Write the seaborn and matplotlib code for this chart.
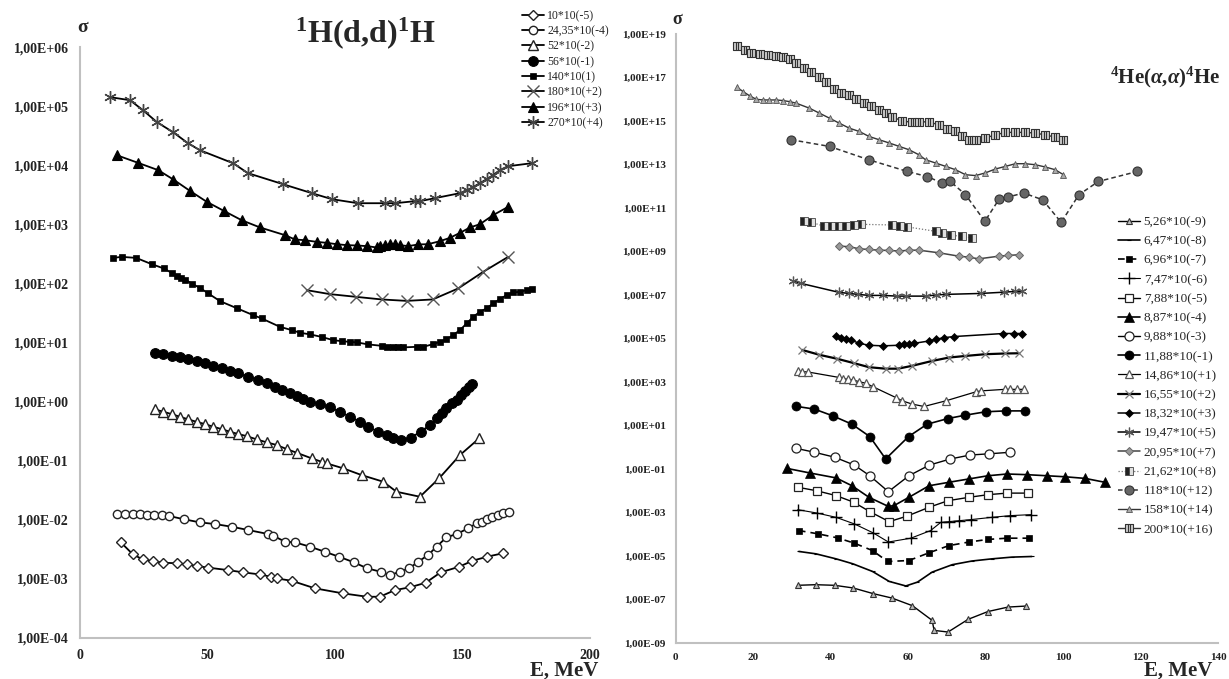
import numpy as np
import pandas as pd
import matplotlib
matplotlib.use("Agg")
import matplotlib.pyplot as plt
from matplotlib.path import Path
import seaborn as sns

# ---------------- data: 1H(d,d)1H ----------------
d10_E = [16.0, 20.7, 24.6, 28.5, 32.7, 37.9, 41.8, 46.0, 50.3, 58.1, 64.0, 70.6, 74.8, 77.1, 83.0,
         92.1, 103.0, 112.6, 117.6, 123.5, 129.4, 135.6, 141.4, 148.7, 153.9, 159.7, 165.7]
d10_S = [4.16e-3, 2.61e-3, 2.14e-3, 2.01e-3, 1.88e-3, 1.84e-3, 1.77e-3, 1.65e-3, 1.55e-3, 1.41e-3,
         1.29e-3, 1.19e-3, 1.09e-3, 1.02e-3, 9.3e-4, 6.93e-4, 5.70e-4, 4.99e-4, 4.99e-4, 6.48e-4,
         7.21e-4, 8.63e-4, 1.29e-3, 1.61e-3, 2.03e-3, 2.38e-3, 2.71e-3]

d24_E = [14.6, 17.6, 20.7, 23.5, 26.1, 29.1, 32.0, 35.0, 40.9, 47.0, 52.9, 59.5, 66.0, 73.8, 75.8,
         80.4, 84.3, 90.2, 96.0, 101.6, 107.4, 112.6, 118.0, 121.5, 125.4, 129.1, 132.6, 136.5,
         139.8, 143.7, 147.7, 152.2, 155.5, 157.5, 159.4, 161.4, 164.0, 165.9, 168.3]
d24_S = [1.25e-2, 1.24e-2, 1.24e-2, 1.24e-2, 1.21e-2, 1.21e-2, 1.20e-2, 1.16e-2, 1.02e-2, 9.06e-3,
         8.49e-3, 7.64e-3, 6.72e-3, 5.75e-3, 5.38e-3, 4.26e-3, 4.16e-3, 3.51e-3, 2.88e-3, 2.37e-3,
         1.91e-3, 1.51e-3, 1.32e-3, 1.16e-3, 1.32e-3, 1.51e-3, 1.95e-3, 2.54e-3, 3.51e-3, 5.06e-3,
         5.75e-3, 7.18e-3, 8.73e-3, 9.29e-3, 1.02e-2, 1.13e-2, 1.21e-2, 1.29e-2, 1.34e-2]

d52_E = [29.4, 32.7, 35.9, 39.2, 42.5, 45.7, 49.0, 52.3, 55.5, 58.8, 62.1, 65.3, 69.3, 73.2, 77.1,
         81.0, 84.9, 90.8, 94.7, 96.7, 103.2, 110.4, 118.9, 124.1, 133.3, 140.8, 149.0, 156.5]
d52_S = [0.741, 0.675, 0.617, 0.556, 0.501, 0.456, 0.418, 0.376, 0.344, 0.310, 0.283, 0.262, 0.230,
         0.205, 0.185, 0.158, 0.137, 0.110, 0.0962, 0.0904, 0.0745, 0.0573, 0.0442, 0.0299, 0.0246,
         0.0504, 0.125, 0.239]

d56_E = [29.4, 32.7, 35.9, 39.2, 42.5, 45.7, 49.0, 52.3, 55.5, 58.8, 62.1, 66.0, 69.9, 73.2, 76.4,
         79.1, 82.3, 84.9, 87.5, 90.2, 94.1, 98.0, 101.9, 105.8, 109.8, 113.0, 116.9, 120.2, 122.8,
         125.7, 129.6, 133.6, 137.2, 139.8, 141.8, 143.7, 145.7, 147.7, 149.4, 151.0, 152.5, 153.7]
d56_S = [6.71, 6.38, 5.97, 5.62, 5.20, 4.86, 4.45, 4.05, 3.66, 3.33, 3.01, 2.64, 2.32, 2.04, 1.75,
         1.57, 1.42, 1.24, 1.11, 0.995, 0.910, 0.803, 0.675, 0.556, 0.457, 0.376, 0.310, 0.272,
         0.239, 0.224, 0.245, 0.310, 0.402, 0.521, 0.634, 0.771, 0.936, 1.06, 1.29, 1.51, 1.77, 1.99]

d140_E = [13.1, 16.3, 22.0, 28.1, 32.9, 35.9, 37.9, 39.5, 41.2, 43.8, 47.0, 50.3, 54.9, 61.7, 67.9,
          71.2, 78.4, 83.0, 86.2, 90.2, 94.7, 99.3, 102.6, 105.8, 108.5, 113.0, 118.3, 120.2, 122.8,
          124.8, 126.7, 132.0, 134.6, 138.5, 141.1, 143.7, 146.3, 149.0, 151.6, 154.2, 156.8, 159.4,
          162.0, 164.6, 167.3, 169.9, 172.5, 175.1, 177.1]
d140_S = [272, 283, 272, 213, 180, 152, 135, 125, 117, 100, 84.6, 68.0, 50.4, 37.9, 29.2, 25.7,
          18.5, 16.3, 14.7, 13.8, 12.5, 11.0, 10.6, 10.3, 10.1, 9.33, 8.83, 8.49, 8.49, 8.49, 8.30,
          8.49, 8.49, 9.44, 10.3, 11.3, 13.4, 16.3, 21.1, 27.4, 33.2, 37.9, 46.0, 54.4, 63.7, 70.8,
          72.4, 77.3, 80.4]

d180_E = [88.9, 98.0, 108.2, 118.3, 128.1, 138.3, 148.3, 158.1, 167.9]
d180_S = [77.3, 66.2, 59.6, 53.8, 50.9, 53.8, 82.6, 158, 283]

d196_E = [14.4, 22.9, 30.7, 36.6, 43.1, 49.7, 56.4, 63.4, 70.6, 80.4, 84.3, 88.2, 92.8, 96.7, 100.6,
          104.5, 108.5, 112.6, 116.3, 117.6, 119.6, 121.5, 123.5, 125.4, 128.7, 132.6, 136.5, 141.1,
          145.0, 149.0, 152.9, 156.8, 162.0, 167.9]
d196_S = [1.49e4, 1.10e4, 8.30e3, 5.77e3, 3.71e3, 2.42e3, 1.70e3, 1.18e3, 890, 659, 557, 542, 508,
          489, 464, 447, 441, 430, 408, 430, 447, 459, 459, 447, 430, 459, 464, 521, 593, 721, 890,
          1010, 1440, 1990]

d270_E = [11.8, 19.6, 24.7, 30.2, 36.5, 42.3, 47.0, 60.0, 65.9, 79.6, 90.9, 98.8, 109.0, 119.6,
          123.5, 131.3, 133.3, 139.2, 149.0, 151.7, 154.1, 156.8, 159.5, 161.9, 164.6, 167.8, 177.2]
d270_S = [1.43e5, 1.27e5, 8.6e4, 5.38e4, 3.65e4, 2.38e4, 1.81e4, 1.09e4, 7.38e3, 4.81e3, 3.39e3,
          2.68e3, 2.29e3, 2.29e3, 2.29e3, 2.48e3, 2.48e3, 2.79e3, 3.39e3, 3.80e3, 4.28e3, 5.0e3,
          5.85e3, 6.82e3, 8.3e3, 9.68e3, 1.09e4]

# ---------------- data: 4He(a,a)4He ----------------
a526_E = [31.5, 36.1, 41.0, 45.8, 51.0, 55.8, 61.1, 66.2, 66.7, 70.3, 75.5, 80.6, 85.8, 90.4]
a526_S = [4.5e-7, 4.8e-7, 4.5e-7, 3.4e-7, 1.86e-7, 1.17e-7, 5.2e-8, 1.1e-8, 3.8e-9, 3.2e-9,
          1.23e-8, 2.8e-8, 4.5e-8, 5.0e-8]

a647_E = [31.8, 36.2, 41.4, 45.7, 50.8, 55.1, 59.4, 62.4, 66.2, 71.4, 76.5, 81.6, 86.8, 91.9]
a647_S = [1.62e-5, 1.26e-5, 7.4e-6, 4.4e-6, 1.95e-6, 6.8e-7, 4.2e-7, 6.3e-7, 1.82e-6, 4.0e-6,
          5.9e-6, 7.4e-6, 8.9e-6, 9.5e-6]

a696_E = [31.8, 36.7, 41.8, 46.1, 50.8, 54.7, 60.2, 65.4, 70.5, 75.7, 80.6, 85.5, 91.1]
a696_S = [1.48e-4, 1.05e-4, 6.8e-5, 3.9e-5, 1.78e-5, 5.6e-6, 6.2e-6, 1.41e-5, 3.0e-5, 4.4e-5,
          5.8e-5, 6.6e-5, 6.6e-5]

a747_E = [31.5, 36.4, 41.4, 46.1, 51.0, 54.9, 60.7, 65.8, 68.4, 70.5, 73.1, 76.1, 81.6, 86.4, 91.8]
a747_S = [1.35e-3, 9.5e-4, 6.0e-4, 3.0e-4, 1.15e-4, 4.4e-5, 6.6e-5, 1.48e-4, 3.5e-4, 3.8e-4,
          4.2e-4, 4.7e-4, 6.0e-4, 7.2e-4, 8.0e-4]

a788_E = [31.5, 36.4, 41.4, 45.9, 50.1, 55.1, 59.8, 65.4, 70.3, 75.7, 80.6, 85.5, 90.9]
a788_S = [1.45e-2, 1.0e-2, 6.0e-3, 3.0e-3, 1.1e-3, 3.8e-4, 6.9e-4, 1.74e-3, 3.5e-3, 5.0e-3,
          6.6e-3, 7.8e-3, 7.8e-3]

a887_E = [28.7, 34.6, 41.4, 45.5, 49.9, 54.9, 56.4, 60.2, 65.4, 70.5, 75.7, 80.6, 85.5, 90.6, 95.8,
          100.5, 105.7, 110.8]
a887_S = [0.107, 0.066, 0.039, 0.017, 5.0e-3, 1.9e-3, 2.1e-3, 5.0e-3, 0.017, 0.0245, 0.035, 0.049,
          0.059, 0.055, 0.049, 0.044, 0.037, 0.0245]

a988_E = [31.1, 35.8, 41.0, 46.1, 50.1, 54.9, 60.2, 65.5, 70.9, 76.0, 80.9, 86.4]
a988_S = [0.89, 0.59, 0.35, 0.152, 0.049, 9.1e-3, 0.049, 0.152, 0.29, 0.44, 0.50, 0.59]

a1188_E = [31.1, 35.8, 40.5, 45.5, 50.1, 54.2, 60.1, 64.9, 70.3, 74.8, 80.1, 85.2, 90.1]
a1188_S = [76, 57, 28, 11.5, 3.1, 0.29, 3.1, 11.5, 21, 30, 43, 47, 47]

a1486_E = [31.5, 32.6, 34.1, 42.2, 43.1, 44.4, 45.7, 47.4, 49.1, 50.8, 56.8, 58.5, 61.1, 64.1, 69.7,
           77.4, 78.7, 84.9, 86.4, 88.1, 89.8]
a1486_S = [3.2e3, 3.0e3, 2.9e3, 1.62e3, 1.45e3, 1.35e3, 1.26e3, 1.02e3, 880, 620, 194, 136, 96, 75,
           136, 350, 390, 460, 460, 460, 460]

a1655_E = [32.6, 37.1, 41.7, 46.1, 49.9, 54.2, 57.4, 61.1, 66.2, 70.5, 74.8, 79.9, 85.1, 88.5]
a1655_S = [3.0e4, 1.78e4, 1.17e4, 7.3e3, 4.8e3, 4.1e3, 4.1e3, 5.6e3, 9.3e3, 1.33e4, 1.58e4, 1.9e4,
           2.05e4, 2.1e4]

a1832_E = [41.4, 42.7, 44.0, 45.2, 47.4, 49.9, 53.4, 57.7, 58.9, 60.2, 61.5, 65.4, 67.1, 69.2, 71.8,
           84.6, 87.2, 89.4]
a1832_S = [1.29e5, 1.09e5, 9.8e4, 8.5e4, 6.0e4, 4.9e4, 4.6e4, 4.9e4, 5.4e4, 5.8e4, 6.0e4, 7.7e4,
           9.1e4, 1.09e5, 1.23e5, 1.70e5, 1.70e5, 1.70e5]

a1947_E = [30.2, 32.4, 42.2, 44.8, 47.0, 49.9, 53.4, 57.2, 59.4, 64.5, 67.1, 69.7, 78.7, 84.7, 87.7,
           89.4]
a1947_S = [4.4e7, 3.4e7, 1.32e7, 1.18e7, 1.07e7, 9.6e6, 9.6e6, 8.9e6, 8.9e6, 8.9e6, 1.0e7, 1.07e7,
           1.18e7, 1.35e7, 1.47e7, 1.47e7]

a2095_E = [42.2, 44.8, 47.4, 49.9, 52.5, 55.1, 57.7, 60.2, 62.8, 68.0, 73.1, 75.7, 78.2, 83.4, 85.9,
           88.5]
a2095_S = [1.78e9, 1.66e9, 1.33e9, 1.24e9, 1.15e9, 1.12e9, 1.05e9, 1.15e9, 1.15e9, 8.7e8, 6.1e8,
           5.5e8, 4.6e8, 6.1e8, 6.6e8, 7.1e8]

a2162_E = [33.2, 35.0, 38.4, 40.1, 41.8, 44.0, 46.1, 47.9, 55.9, 57.9, 59.8, 67.1, 68.8, 71.0, 73.9,
           76.5]
a2162_S = [2.6e10, 2.2e10, 1.44e10, 1.55e10, 1.55e10, 1.55e10, 1.66e10, 1.78e10, 1.66e10, 1.5e10,
           1.35e10, 8.5e9, 7.2e9, 5.6e9, 5.0e9, 4.2e9]

a118_E = [29.8, 39.7, 49.8, 59.8, 64.9, 68.8, 70.9, 74.8, 79.8, 83.5, 85.8, 89.8, 94.7, 99.5, 104.1,
          109.1, 119.2]
a118_S = [1.38e14, 6.8e13, 1.66e13, 4.8e12, 2.8e12, 1.41e12, 1.66e12, 4.1e11, 2.45e10, 2.6e11,
          3.2e11, 4.9e11, 2.4e11, 2.2e10, 4.1e11, 1.66e12, 4.8e12]

a158_E = [15.8, 17.4, 19.1, 20.8, 22.5, 24.2, 26.0, 27.7, 29.4, 31.1, 34.5, 37.1, 39.7, 42.2, 44.8,
          47.4, 49.9, 52.5, 55.1, 57.7, 60.2, 62.8, 64.5, 67.1, 69.7, 72.2, 74.8, 77.4, 79.9, 82.5,
          85.1, 87.7, 90.2, 92.8, 95.4, 97.9, 100.1]
a158_S = [3.6e16, 2.25e16, 1.43e16, 1.0e16, 9.3e15, 9.3e15, 9.3e15, 8.7e15, 7.8e15, 6.6e15, 3.9e15,
          2.3e15, 1.35e15, 8.0e14, 4.7e14, 3.3e14, 1.95e14, 1.38e14, 9.8e13, 6.8e13, 4.8e13, 2.8e13,
          1.66e13, 1.17e13, 8.2e12, 5.8e12, 3.4e12, 3.1e12, 4.1e12, 6.2e12, 8.2e12, 1.09e13,
          1.09e13, 9.8e12, 7.7e12, 5.8e12, 3.4e12]

a200_E = [15.8, 17.8, 19.5, 21.7, 23.8, 26.0, 27.7, 29.4, 31.1, 33.2, 35.0, 37.1, 38.8, 40.9, 42.7,
          44.8, 46.5, 48.7, 50.4, 52.5, 54.2, 55.9, 58.5, 61.1, 62.8, 65.4, 68.0, 70.1, 72.2, 73.9,
          75.7, 77.4, 79.9, 82.5, 85.1, 87.7, 90.2, 92.8, 95.4, 97.9, 100.1]
a200_S = [2.8e18, 1.85e18, 1.30e18, 1.17e18, 1.09e18, 9.8e17, 9.1e17, 6.9e17, 4.8e17, 2.7e17,
          1.87e17, 1.10e17, 6.5e16, 2.9e16, 2.0e16, 1.59e16, 1.0e16, 6.6e15, 5.0e15, 3.26e15,
          2.29e15, 1.51e15, 1.02e15, 8.6e14, 9.5e14, 8.9e14, 6.7e14, 4.3e14, 3.3e14, 1.95e14,
          1.38e14, 1.38e14, 1.66e14, 2.3e14, 3.0e14, 3.0e14, 3.0e14, 2.8e14, 2.3e14, 1.83e14,
          1.38e14]

left_ticks_x = [0, 50, 100, 150, 200]
left_ticks_y = [1e-4, 1e-3, 1e-2, 1e-1, 1e0, 1e1, 1e2, 1e3, 1e4, 1e5, 1e6]
right_ticks_x = [0, 20, 40, 60, 80, 100, 120, 140]
right_ticks_y = [1e-9, 1e-7, 1e-5, 1e-3, 1e-1, 1e1, 1e3, 1e5, 1e7, 1e9, 1e11, 1e13, 1e15, 1e17, 1e19]

# ---------------- style ----------------
sns.set_style("white")
plt.rcParams["font.family"] = ["Liberation Serif", "DejaVu Serif"]
plt.rcParams["mathtext.fontset"] = "custom"
plt.rcParams["mathtext.rm"] = "Liberation Serif:bold"
plt.rcParams["mathtext.it"] = "Liberation Serif:italic:bold"
plt.rcParams["mathtext.bf"] = "Liberation Serif:bold"

# square marker with two vertical bars inside
_v = [(-1, -1), (1, -1), (1, 1), (-1, 1), (-1, -1),
      (-0.33, -1), (-0.33, 1), (0.33, -1), (0.33, 1)]
_c = [Path.MOVETO, Path.LINETO, Path.LINETO, Path.LINETO, Path.CLOSEPOLY,
      Path.MOVETO, Path.LINETO, Path.MOVETO, Path.LINETO]
BARSQ = Path(_v, _c)
ASTER = (6, 2, 0)

fig = plt.figure(figsize=(12.29, 6.79), dpi=100)
axL = fig.add_axes([0.0651, 0.0604, 0.415, 0.870])
axR = fig.add_axes([0.5498, 0.0530, 0.4413, 0.8969])


def draw(ax, E, S, label, lw=1.3, color="black", ls="-", **mk):
    df = pd.DataFrame({"E": E, "sigma": S})
    sns.lineplot(data=df, x="E", y="sigma", ax=ax, estimator=None, sort=False,
                 errorbar=None, color=color, lw=lw, linestyle=ls, label=label,
                 legend=False, **mk)


# left panel series
draw(axL, d10_E, d10_S, "10*10(-5)", marker="D", ms=5.5, mfc="white", mec="#222", mew=1.0)
draw(axL, d24_E, d24_S, "24,35*10(-4)", marker="o", ms=6, mfc="white", mec="#222", mew=1.0)
draw(axL, d52_E, d52_S, "52*10(-2)", marker="^", ms=7, mfc="white", mec="#222", mew=1.0)
draw(axL, d56_E, d56_S, "56*10(-1)", marker="o", ms=7, mfc="black", mec="black", mew=0.8)
draw(axL, d140_E, d140_S, "140*10(1)", marker="s", ms=4, mfc="black", mec="black", mew=0.5)
draw(axL, d180_E, d180_S, "180*10(+2)", marker="x", ms=8, mfc="none", mec="#555", mew=1.0)
draw(axL, d196_E, d196_S, "196*10(+3)", marker="^", ms=7, mfc="black", mec="black", mew=0.8)
draw(axL, d270_E, d270_S, "270*10(+4)", marker=ASTER, ms=9, mfc="none", mec="#444", mew=1.0)

# right panel series
draw(axR, a526_E, a526_S, "5,26*10(-9)", lw=1.0, marker="^", ms=5, mfc="#bbbbbb", mec="#333", mew=0.8)
draw(axR, a647_E, a647_S, "6,47*10(-8)", lw=1.2, marker="_", ms=3, mfc="black", mec="black", mew=0.8)
draw(axR, a696_E, a696_S, "6,96*10(-7)", lw=1.2, ls=(0, (4, 3)), marker="s", ms=5, mfc="black", mec="black", mew=0.5)
draw(axR, a747_E, a747_S, "7,47*10(-6)", lw=0.8, marker="+", ms=8, mfc="none", mec="black", mew=1.0)
draw(axR, a788_E, a788_S, "7,88*10(-5)", lw=1.0, marker="s", ms=6, mfc="white", mec="#222", mew=0.9)
draw(axR, a887_E, a887_S, "8,87*10(-4)", lw=1.2, marker="^", ms=6.5, mfc="black", mec="black", mew=0.5)
draw(axR, a988_E, a988_S, "9,88*10(-3)", lw=1.0, marker="o", ms=6.5, mfc="white", mec="#222", mew=0.9)
draw(axR, a1188_E, a1188_S, "11,88*10(-1)", lw=1.2, marker="o", ms=6.5, mfc="black", mec="black", mew=0.5)
draw(axR, a1486_E, a1486_S, "14,86*10(+1)", lw=0.9, marker="^", ms=6, mfc="white", mec="#555", mew=0.9)
draw(axR, a1655_E, a1655_S, "16,55*10(+2)", lw=1.6, marker="x", ms=6, mfc="none", mec="#777", mew=0.9)
draw(axR, a1832_E, a1832_S, "18,32*10(+3)", lw=1.1, marker="D", ms=4.5, mfc="black", mec="black", mew=0.5)
draw(axR, a1947_E, a1947_S, "19,47*10(+5)", lw=1.1, marker=ASTER, ms=7, mfc="none", mec="#555", mew=0.9)
draw(axR, a2095_E, a2095_S, "20,95*10(+7)", lw=1.1, color="#444", marker="D", ms=4.5, mfc="#999", mec="#666", mew=0.7)
draw(axR, a2162_E, a2162_S, "21,62*10(+8)", lw=0.9, color="#777", ls=(0, (1, 1.5)), marker="s", ms=6,
     fillstyle="left", mfc="#222", markerfacecoloralt="#e0e0e0", mec="#444", mew=0.6)
draw(axR, a118_E, a118_S, "118*10(+12)", lw=1.1, color="#333", ls=(0, (3, 2)), marker="o", ms=6.5,
     mfc="#666", mec="#333", mew=0.8)
draw(axR, a158_E, a158_S, "158*10(+14)", lw=1.0, color="#333", marker="^", ms=5, mfc="#aaaaaa", mec="#555", mew=0.6)
draw(axR, a200_E, a200_S, "200*10(+16)", lw=1.0, color="#333", marker=BARSQ, ms=6, mfc="#cccccc", mec="#333", mew=0.8)


def sci_label(v):
    e = int(round(np.log10(v)))
    return "1,00E{:+03d}".format(e)


def style_axis(ax, xt, yt, xlim, ylim, fs, pad):
    ax.set_yscale("log")
    ax.set_xlim(*xlim)
    ax.set_ylim(*ylim)
    ax.set_xticks(xt, labels=[str(v) for v in xt], fontweight="bold", fontsize=fs, color="#222")
    ax.set_yticks(yt, labels=[sci_label(v) for v in yt], fontweight="bold", fontsize=fs, color="#222")
    ax.minorticks_off()
    ax.tick_params(length=0, pad=pad)
    for s in ("top", "right"):
        ax.spines[s].set_visible(False)
    for s in ("left", "bottom"):
        ax.spines[s].set_color("#c0c0c0")
        ax.spines[s].set_linewidth(1.5)
    ax.set_xlabel("")
    ax.set_ylabel("")
    ax.patch.set_alpha(0)


style_axis(axL, left_ticks_x, left_ticks_y, (0, 200), (1e-4, 1e6), 10, 8)
style_axis(axR, right_ticks_x, right_ticks_y, (0, 140), (1e-9, 1e19), 8, 7)

# legends
hL, lL = axL.get_legend_handles_labels()
fig.legend(hL, lL, loc="upper left", bbox_to_anchor=(522 / 1229, 1 - 10 / 679), frameon=False,
           fontsize=8.5, handlelength=1.9, handletextpad=0.25, labelspacing=0.28,
           borderpad=0, borderaxespad=0)
hR, lR = axR.get_legend_handles_labels()
fig.legend(hR, lR, loc="upper left", bbox_to_anchor=(1118 / 1229, 1 - 216 / 679), frameon=False,
           fontsize=9.5, handlelength=1.7, handletextpad=0.25, labelspacing=0.53,
           borderpad=0, borderaxespad=0)

# titles and axis captions
fig.text(365 / 1229, 1 - 33 / 679, r"$^{1}$H(d,d)$^{1}$H", ha="center", va="center",
         fontsize=23, fontweight="bold")
fig.text(1165 / 1229, 1 - 77 / 679, r"$^{4}$He($\alpha$,$\alpha$)$^{4}$He", ha="center",
         va="center", fontsize=15, fontweight="bold")
fig.text(83 / 1229, 1 - 28 / 679, "σ", ha="center", va="center", fontsize=14, fontweight="bold")
fig.text(677 / 1229, 1 - 20 / 679, "σ", ha="center", va="center", fontsize=13, fontweight="bold")
fig.text(598 / 1229, 1 - 676 / 679, "E, MeV", ha="right", va="baseline", fontsize=15, fontweight="bold")
fig.text(1212 / 1229, 1 - 676 / 679, "E, MeV", ha="right", va="baseline", fontsize=15, fontweight="bold")

fig.savefig("out.png", dpi=100, facecolor="white")
